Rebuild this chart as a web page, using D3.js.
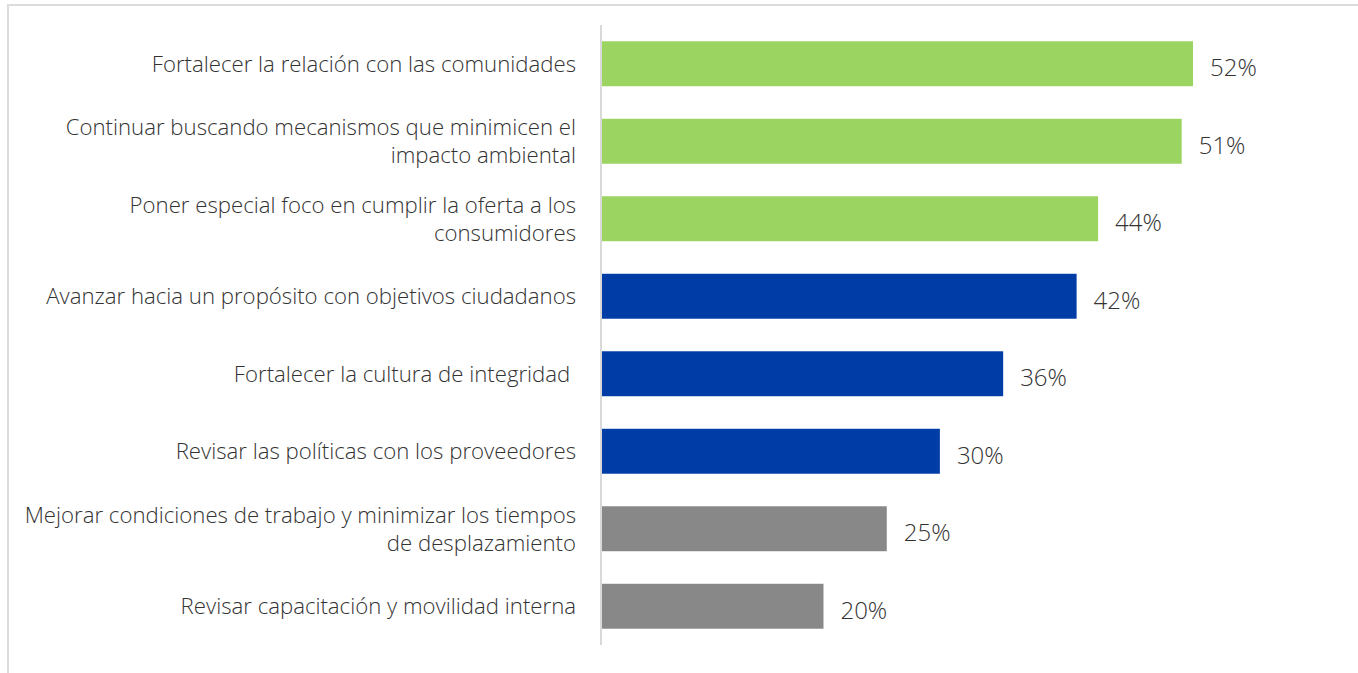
<!DOCTYPE html>
<html>
<head>
<meta charset="utf-8">
<script src="https://cdn.jsdelivr.net/npm/d3@7/dist/d3.min.js"></script>
<style>
  body { margin: 0; background: #fff; }
  svg text { font-family: 'Open Sans', 'Noto Sans', sans-serif; font-weight: 300; fill: #333; white-space: pre; }
</style>
</head>
<body>
<svg id="chart" width="1358" height="673"></svg>
<script>
'use strict';

// Data
var categories = [
    'Fortalecer la relación con las comunidades',
    'Continuar buscando mecanismos que minimicen el\nimpacto ambiental',
    'Poner especial foco en cumplir la oferta a los\nconsumidores',
    'Avanzar hacia un propósito con objetivos ciudadanos',
    'Fortalecer la cultura de integridad ',
    'Revisar las políticas con los proveedores',
    'Mejorar condiciones de trabajo y minimizar los tiempos\nde desplazamiento',
    'Revisar capacitación y movilidad interna'
];
var values = [52.3, 51.3, 43.9, 42.0, 35.5, 29.9, 25.2, 19.6];
var valueLabels = ['52%', '51%', '44%', '42%', '36%', '30%', '25%', '20%'];
var groups = ['green', 'green', 'green', 'blue', 'blue', 'blue', 'gray', 'gray'];

var colors = { green: '#9bd461', blue: '#003ca5', gray: '#898888' };

var svg = d3.select('#chart');

// Frame (top and left border)
svg.append('line')
    .attr('x1', 8).attr('x2', 1358).attr('y1', 5).attr('y2', 5)
    .style('stroke', '#dcdcdc').style('stroke-width', 2);
svg.append('line')
    .attr('x1', 8).attr('x2', 8).attr('y1', 4).attr('y2', 673)
    .style('stroke', '#dcdcdc').style('stroke-width', 2);

var AXIS_X = 602;
var x = d3.scaleLinear().domain([0, 52.3]).range([AXIS_X, 1193]);
var y = d3.scaleBand()
    .domain(d3.range(categories.length))
    .range([25, 645])
    .paddingInner(0.42)
    .paddingOuter(0.21);

// Bars
svg.append('g').selectAll('rect')
    .data(values)
    .enter().append('rect')
    .attr('x', x(0))
    .attr('y', function(d, i) { return y(i); })
    .attr('width', function(d) { return x(d) - x(0); })
    .attr('height', y.bandwidth())
    .style('fill', function(d, i) { return colors[groups[i]]; });

// Axis line
svg.append('line')
    .attr('x1', AXIS_X - 1).attr('x2', AXIS_X - 1)
    .attr('y1', y.range()[0]).attr('y2', y.range()[1])
    .style('stroke', '#d9d9d9').style('stroke-width', 2);

// Category labels
var LINE_H = 28;
svg.append('g').selectAll('text')
    .data(categories)
    .enter().append('text')
    .attr('text-anchor', 'end')
    .style('font-size', '22.2px')
    .each(function(d, i) {
        var lines = d.split('\n');
        var cy = y(i) + y.bandwidth() / 2;
        var top = cy - (lines.length - 1) * LINE_H / 2;
        var t = d3.select(this);
        lines.forEach(function(line, k) {
            t.append('tspan')
                .attr('x', 576)
                .attr('y', top + k * LINE_H)
                .attr('dy', '0.35em')
                .text(line);
        });
    });

// Value labels
svg.append('g').selectAll('text')
    .data(values)
    .enter().append('text')
    .attr('x', function(d) { return x(d) + 17; })
    .attr('y', function(d, i) { return y(i) + y.bandwidth() / 2 + 4; })
    .attr('dy', '0.35em')
    .style('font-size', '24px')
    .text(function(d, i) { return valueLabels[i]; });
</script>
</body>
</html>
